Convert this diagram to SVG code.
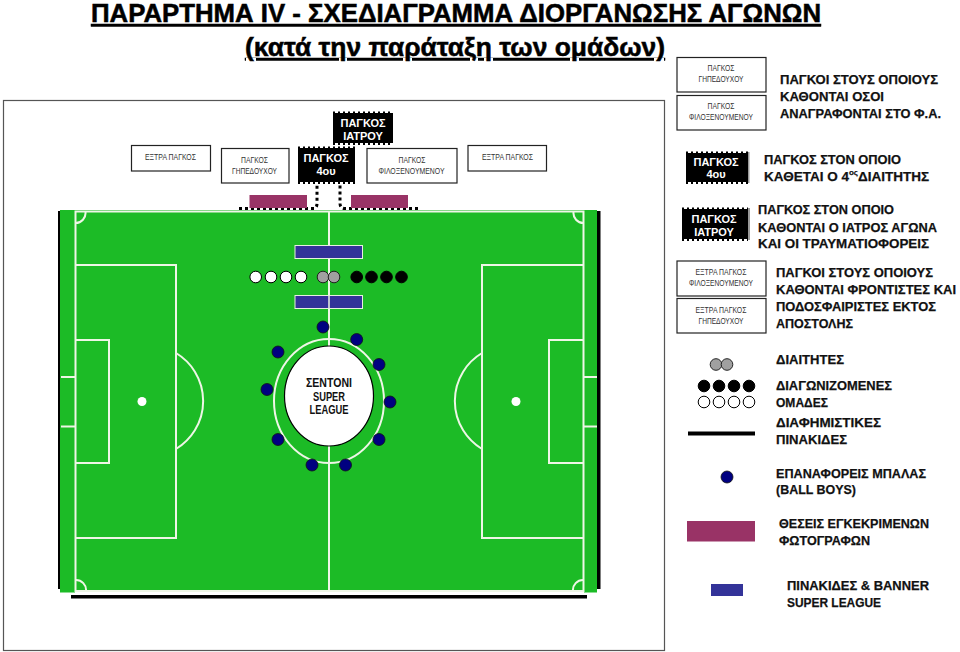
<svg xmlns="http://www.w3.org/2000/svg" width="960" height="652" viewBox="0 0 960 652">
<style>
text{font-family:"Liberation Sans","Noto Sans",sans-serif;fill:#000}
.t{font-size:25px;font-weight:700;text-decoration:underline;stroke:#000;stroke-width:.5px}
.l{font-size:13.500px;font-weight:700;fill:#111;stroke:#111;stroke-width:.25px}
.s{font-size:9px;fill:#333;text-anchor:middle}
.w{font-size:11px;font-weight:700;fill:#fff;text-anchor:middle}
.c{font-size:12px;font-weight:700;fill:#111;text-anchor:middle}
.box{fill:#fff;stroke:#222;stroke-width:1.200}
.blk{fill:#000}
.ser{stroke:#000;stroke-width:2;stroke-dasharray:2 3;fill:none}
.dot{stroke:#000;stroke-width:3;stroke-dasharray:3 3;fill:none}
.m{fill:none;stroke:#eef6e6;stroke-width:2}
.wh{fill:#fff;stroke:#000;stroke-width:1}
.bk{fill:#000;stroke:#000;stroke-width:1}
.gr{fill:#a0a0a0;stroke:#222;stroke-width:1}
.bb{fill:#000080;stroke:#111;stroke-width:.8}
.ph{fill:#993366}
.bn{fill:#333399}
</style>

<g id="title">
<text class="t" x="91" y="22" textLength="730" lengthAdjust="spacingAndGlyphs">ΠΑΡΑΡΤΗΜΑ IV - ΣΧΕΔΙΑΓΡΑΜΜΑ ΔΙΟΡΓΑΝΩΣΗΣ ΑΓΩΝΩΝ</text>
<text class="t" x="245" y="56" textLength="420" lengthAdjust="spacingAndGlyphs">(κατά την παράταξη των ομάδων)</text>
</g>

<rect id="frame" x="3.500" y="100.500" width="661" height="550" fill="none" stroke="#555" stroke-width="1.200"/>

<g id="pitch">
<rect x="58" y="211" width="3.500" height="378" fill="#000"/>
<rect x="597" y="211" width="3.500" height="378" fill="#000"/>
<rect x="71" y="595" width="516" height="3.500" fill="#000"/>
<rect x="60" y="210" width="537" height="380" fill="#1cbb26"/>
<rect x="60" y="590" width="15" height="2.500" fill="#1cbb26"/>
<rect x="584" y="590" width="13" height="2.500" fill="#1cbb26"/>
<rect x="75.500" y="211.500" width="508" height="379.500" class="m"/>
<path class="m" d="M329 211.500V591"/>
<path class="m" d="M75.500 265H176V538H75.500M75.500 340H109V463H75.500M61 377H75.500M61 426.500H75.500"/>
<path class="m" d="M583.500 265H482V538H583.500M583.500 340H549V463H583.500M597 377H583.500M597 426.500H583.500"/>
<path class="m" d="M176 353A56 56 0 0 1 176 449M482 353A56 56 0 0 0 482 449"/>
<path class="m" d="M85.500 212A10 10 0 0 1 75.500 223M573.500 212A10 10 0 0 0 583.500 223M75.500 580A10 10 0 0 1 86 591M583.500 580A10 10 0 0 0 573 591"/>
<circle cx="142" cy="401.500" r="4.500" fill="#fff"/>
<circle cx="516" cy="401.500" r="4.500" fill="#fff"/>
<ellipse cx="329" cy="401" rx="55" ry="62" class="m"/>
</g>

<g id="connectors">
<path class="dot" d="M239 208.500H314Q317 208 317 203V184"/>
<path class="dot" d="M418 208.500H344Q340 208 340 203V184"/>
</g>

<g id="photo-left"><rect class="ph" x="249.500" y="195" width="57.500" height="13"/></g>
<g id="photo-right"><rect class="ph" x="351" y="195" width="57" height="13"/></g>

<g id="bench-extra-left"><rect class="box" x="131.500" y="145.500" width="79" height="25.500"/><text class="s" x="170.500" y="160" textLength="51" lengthAdjust="spacingAndGlyphs">ΕΞΤΡΑ ΠΑΓΚΟΣ</text></g>
<g id="bench-home"><rect class="box" x="221.500" y="148.500" width="67.500" height="34.500"/><text class="s" x="254.500" y="162.500" textLength="27" lengthAdjust="spacingAndGlyphs">ΠΑΓΚΟΣ</text><text class="s" x="254.500" y="174" textLength="45" lengthAdjust="spacingAndGlyphs">ΓΗΠΕΔΟΥΧΟΥ</text></g>
<g id="bench-fourth"><rect class="blk" x="298" y="148" width="57" height="34"/><path class="ser" d="M298 147.500H355M298 183H355"/><text class="w" x="326" y="162">ΠΑΓΚΟΣ</text><text class="w" x="326" y="174.500">4ου</text></g>
<g id="bench-doctor"><rect class="blk" x="333" y="113" width="60" height="30"/><path class="ser" d="M333 112.500H393M333 144H393"/><text class="w" x="363" y="127">ΠΑΓΚΟΣ</text><text class="w" x="363" y="139.500">ΙΑΤΡΟΥ</text></g>
<g id="bench-away"><rect class="box" x="367" y="148.500" width="90" height="34.500"/><text class="s" x="412" y="162.500" textLength="27" lengthAdjust="spacingAndGlyphs">ΠΑΓΚΟΣ</text><text class="s" x="411.500" y="174" textLength="66" lengthAdjust="spacingAndGlyphs">ΦΙΛΟΞΕΝΟΥΜΕΝΟΥ</text></g>
<g id="bench-extra-right"><rect class="box" x="468" y="145.500" width="78.500" height="25.500"/><text class="s" x="507.500" y="160" textLength="51" lengthAdjust="spacingAndGlyphs">ΕΞΤΡΑ ΠΑΓΚΟΣ</text></g>

<g id="banner-top"><rect class="bn" x="295" y="245.500" width="67.500" height="13" stroke="#e8f0e0" stroke-width="1"/></g>
<g id="banner-bottom"><rect class="bn" x="295" y="295.500" width="67.500" height="13" stroke="#e8f0e0" stroke-width="1"/><path d="M329 296V308" stroke="#eef6e6" stroke-width="1.500"/></g>

<g id="team-white"><circle class="wh" cx="255.700" cy="277" r="5.800"/><circle class="wh" cx="271" cy="277" r="5.800"/><circle class="wh" cx="286" cy="277" r="5.800"/><circle class="wh" cx="301" cy="277" r="5.800"/></g>
<g id="referees"><circle class="gr" cx="323" cy="277" r="5.800"/><circle class="gr" cx="334" cy="277" r="5.800"/></g>
<g id="team-black"><circle class="bk" cx="356.700" cy="277" r="5.800"/><circle class="bk" cx="371.500" cy="277" r="5.800"/><circle class="bk" cx="386.500" cy="277" r="5.800"/><circle class="bk" cx="401.500" cy="277" r="5.800"/></g>

<g id="ball-boys">
<circle class="bb" cx="323" cy="327" r="6"/><circle class="bb" cx="356.700" cy="339.500" r="6"/><circle class="bb" cx="379" cy="364.500" r="6"/><circle class="bb" cx="390" cy="402" r="6"/><circle class="bb" cx="379" cy="439.500" r="6"/><circle class="bb" cx="345.500" cy="465" r="6"/><circle class="bb" cx="312" cy="465" r="6"/><circle class="bb" cx="278" cy="439.500" r="6"/><circle class="bb" cx="267" cy="389.500" r="6"/><circle class="bb" cx="278" cy="352" r="6"/>
</g>

<g id="sentoni">
<ellipse cx="329" cy="396" rx="44.500" ry="50" fill="#fff" stroke="#000" stroke-width="1.200"/>
<text class="c" x="329" y="387" textLength="46" lengthAdjust="spacingAndGlyphs">ΣΕΝΤΟΝΙ</text>
<text class="c" x="329" y="401" textLength="32" lengthAdjust="spacingAndGlyphs">SUPER</text>
<text class="c" x="329" y="414" textLength="39" lengthAdjust="spacingAndGlyphs">LEAGUE</text>
</g>

<g id="legend-benches">
<rect class="box" x="677" y="57.500" width="89" height="34.500"/><text class="s" x="721" y="71" textLength="27" lengthAdjust="spacingAndGlyphs">ΠΑΓΚΟΣ</text><text class="s" x="721" y="81.500" textLength="45" lengthAdjust="spacingAndGlyphs">ΓΗΠΕΔΟΥΧΟΥ</text>
<rect class="box" x="677" y="95.500" width="89" height="34.500"/><text class="s" x="721" y="109" textLength="27" lengthAdjust="spacingAndGlyphs">ΠΑΓΚΟΣ</text><text class="s" x="721" y="119.500" textLength="64" lengthAdjust="spacingAndGlyphs">ΦΙΛΟΞΕΝΟΥΜΕΝΟΥ</text>
</g>
<text class="l" x="780" y="84" textLength="158" lengthAdjust="spacingAndGlyphs">ΠΑΓΚΟΙ ΣΤΟΥΣ ΟΠΟΙΟΥΣ</text>
<text class="l" x="780" y="101" textLength="104" lengthAdjust="spacingAndGlyphs">ΚΑΘΟΝΤΑΙ ΟΣΟΙ</text>
<text class="l" x="780" y="118" textLength="161" lengthAdjust="spacingAndGlyphs">ΑΝΑΓΡΑΦΟΝΤΑΙ ΣΤΟ Φ.Α.</text>

<g id="legend-fourth">
<rect x="748" y="152" width="1.500" height="31" fill="#999"/>
<rect class="blk" x="686" y="153" width="62" height="29"/><path class="ser" d="M686 152.500H748M686 183H748"/>
<text class="w" x="716" y="166">ΠΑΓΚΟΣ</text><text class="w" x="716" y="177.500">4ου</text>
</g>
<text class="l" x="764" y="164" textLength="137" lengthAdjust="spacingAndGlyphs">ΠΑΓΚΟΣ ΣΤΟΝ ΟΠΟΙΟ</text>
<text class="l" x="764" y="181">ΚΑΘΕΤΑΙ Ο 4<tspan font-size="8" dy="-6">ος</tspan><tspan x="858" dy="6">ΔΙΑΙΤΗΤΗΣ</tspan></text>

<g id="legend-doctor">
<rect x="748" y="208" width="2" height="32" fill="#999"/>
<rect class="blk" x="682" y="209" width="66" height="30"/><path class="ser" d="M682 208.500H748M682 240H748"/>
<text class="w" x="714" y="223">ΠΑΓΚΟΣ</text><text class="w" x="714" y="235.500">ΙΑΤΡΟΥ</text>
</g>
<text class="l" x="758" y="214" textLength="136" lengthAdjust="spacingAndGlyphs">ΠΑΓΚΟΣ ΣΤΟΝ ΟΠΟΙΟ</text>
<text class="l" x="758" y="232" textLength="179" lengthAdjust="spacingAndGlyphs">ΚΑΘΟΝΤΑΙ Ο ΙΑΤΡΟΣ ΑΓΩΝΑ</text>
<text class="l" x="758" y="248" textLength="171" lengthAdjust="spacingAndGlyphs">ΚΑΙ ΟΙ ΤΡΑΥΜΑΤΙΟΦΟΡΕΙΣ</text>

<g id="legend-extra">
<rect class="box" x="677" y="261" width="89" height="35"/><text class="s" x="721" y="275" textLength="51" lengthAdjust="spacingAndGlyphs">ΕΞΤΡΑ ΠΑΓΚΟΣ</text><text class="s" x="721" y="286" textLength="64" lengthAdjust="spacingAndGlyphs">ΦΙΛΟΞΕΝΟΥΜΕΝΟΥ</text>
<rect class="box" x="677" y="298.500" width="89" height="34.500"/><text class="s" x="721" y="312.500" textLength="51" lengthAdjust="spacingAndGlyphs">ΕΞΤΡΑ ΠΑΓΚΟΣ</text><text class="s" x="721" y="323.500" textLength="45" lengthAdjust="spacingAndGlyphs">ΓΗΠΕΔΟΥΧΟΥ</text>
</g>
<text class="l" x="776" y="277" textLength="157" lengthAdjust="spacingAndGlyphs">ΠΑΓΚΟΙ ΣΤΟΥΣ ΟΠΟΙΟΥΣ</text>
<text class="l" x="776" y="294" textLength="180" lengthAdjust="spacingAndGlyphs">ΚΑΘΟΝΤΑΙ ΦΡΟΝΤΙΣΤΕΣ ΚΑΙ</text>
<text class="l" x="776" y="311" textLength="160" lengthAdjust="spacingAndGlyphs">ΠΟΔΟΣΦΑΙΡΙΣΤΕΣ ΕΚΤΟΣ</text>
<text class="l" x="776" y="328" textLength="77" lengthAdjust="spacingAndGlyphs">ΑΠΟΣΤΟΛΗΣ</text>

<g id="legend-referees"><circle class="gr" cx="716" cy="364.500" r="5.800"/><circle class="gr" cx="727" cy="364.500" r="5.800"/></g>
<text class="l" x="776" y="364" textLength="68" lengthAdjust="spacingAndGlyphs">ΔΙΑΙΤΗΤΕΣ</text>

<g id="legend-teams">
<circle class="bk" cx="704" cy="386" r="5.800"/><circle class="bk" cx="719" cy="386" r="5.800"/><circle class="bk" cx="734" cy="386" r="5.800"/><circle class="bk" cx="749" cy="386" r="5.800"/>
<circle class="wh" cx="704" cy="402" r="5.800"/><circle class="wh" cx="719" cy="402" r="5.800"/><circle class="wh" cx="734" cy="402" r="5.800"/><circle class="wh" cx="749" cy="402" r="5.800"/>
</g>
<text class="l" x="776" y="390" textLength="116" lengthAdjust="spacingAndGlyphs">ΔΙΑΓΩΝΙΖΟΜΕΝΕΣ</text>
<text class="l" x="776" y="407" textLength="52" lengthAdjust="spacingAndGlyphs">ΟΜΑΔΕΣ</text>

<g id="legend-boards"><rect x="688" y="431.500" width="67" height="4" fill="#000"/></g>
<text class="l" x="776" y="427" textLength="105" lengthAdjust="spacingAndGlyphs">ΔΙΑΦΗΜΙΣΤΙΚΕΣ</text>
<text class="l" x="776" y="444" textLength="71" lengthAdjust="spacingAndGlyphs">ΠΙΝΑΚΙΔΕΣ</text>

<g id="legend-ballboy"><circle class="bb" cx="727" cy="477" r="6"/></g>
<text class="l" x="776" y="478" textLength="150" lengthAdjust="spacingAndGlyphs">ΕΠΑΝΑΦΟΡΕΙΣ ΜΠΑΛΑΣ</text>
<text class="l" x="776" y="494" textLength="80" lengthAdjust="spacingAndGlyphs">(BALL BOYS)</text>

<g id="legend-photo"><rect class="ph" x="687" y="521" width="68" height="20.500"/></g>
<text class="l" x="779" y="528" textLength="150" lengthAdjust="spacingAndGlyphs">ΘΕΣΕΙΣ ΕΓΚΕΚΡΙΜΕΝΩΝ</text>
<text class="l" x="779" y="544.500" textLength="91" lengthAdjust="spacingAndGlyphs">ΦΩΤΟΓΡΑΦΩΝ</text>

<g id="legend-banner"><rect class="bn" x="711" y="584" width="32" height="12"/></g>
<text class="l" x="787" y="590" textLength="142" lengthAdjust="spacingAndGlyphs">ΠΙΝΑΚΙΔΕΣ &amp; BANNER</text>
<text class="l" x="787" y="607" textLength="94" lengthAdjust="spacingAndGlyphs">SUPER LEAGUE</text>
</svg>
